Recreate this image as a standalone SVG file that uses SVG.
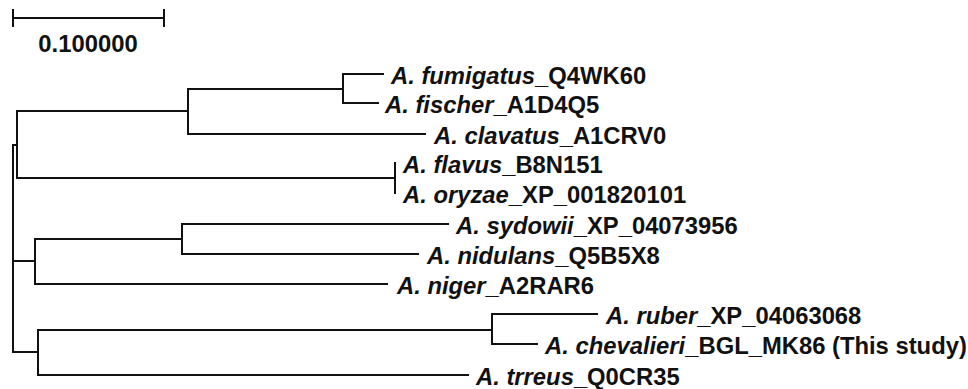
<svg xmlns="http://www.w3.org/2000/svg" width="968" height="389" viewBox="0 0 968 389">
<style>
.br{fill:none;stroke:#111;stroke-width:2;stroke-linecap:square}
.lb{font-family:"Liberation Sans",Arial,sans-serif;font-weight:bold;font-size:23.8px;fill:#111}
.sp{font-style:italic}
</style>
<rect width="968" height="389" fill="#fff"/>
<g id="scalebar">
<path class="br" d="M13 18H164M13 10V26M164 10V26"/>
<text class="lb" x="88" y="52" text-anchor="middle" font-size="23">0.100000</text>
</g>
<g id="connectors">
<path class="br" d="M13 145V352M13 145H17M17 111V178M17 111H188M188 89V134M188 89H343M343 74V103M343 74H383M343 103H378M188 134H425M17 178H395M395 163V193"/>
<path class="br" d="M13 261H35M35 239V284M35 239H182M182 224V254M182 224H448M182 254H418M35 284H387"/>
<path class="br" d="M13 352H38M38 330V375M38 330H492M492 314V344M492 314H597M492 344H537M38 375H468"/>
</g>
<g id="fumigatus"><text class="lb" x="391" y="83.5"><tspan class="sp">A. fumigatus</tspan>_Q4WK60</text></g>
<g id="fischer"><text class="lb" x="385" y="112.5"><tspan class="sp">A. fischer</tspan>_A1D4Q5</text></g>
<g id="clavatus"><text class="lb" x="434" y="143.5"><tspan class="sp">A. clavatus</tspan>_A1CRV0</text></g>
<g id="flavus"><text class="lb" x="403" y="172.5"><tspan class="sp">A. flavus</tspan>_B8N151</text></g>
<g id="oryzae"><text class="lb" x="403" y="202.5"><tspan class="sp">A. oryzae</tspan>_XP_001820101</text></g>
<g id="sydowii"><text class="lb" x="456" y="233.5"><tspan class="sp">A. sydowii</tspan>_XP_04073956</text></g>
<g id="nidulans"><text class="lb" x="427" y="263.5"><tspan class="sp">A. nidulans</tspan>_Q5B5X8</text></g>
<g id="niger"><text class="lb" x="397" y="293.5"><tspan class="sp">A. niger</tspan>_A2RAR6</text></g>
<g id="ruber"><text class="lb" x="606" y="323.5"><tspan class="sp">A. ruber</tspan>_XP_04063068</text></g>
<g id="chevalieri"><text class="lb" x="545" y="353.5"><tspan class="sp">A. chevalieri</tspan>_BGL_MK86 (This study)</text></g>
<g id="trreus"><text class="lb" x="476" y="384.5"><tspan class="sp">A. trreus</tspan>_Q0CR35</text></g>
</svg>
